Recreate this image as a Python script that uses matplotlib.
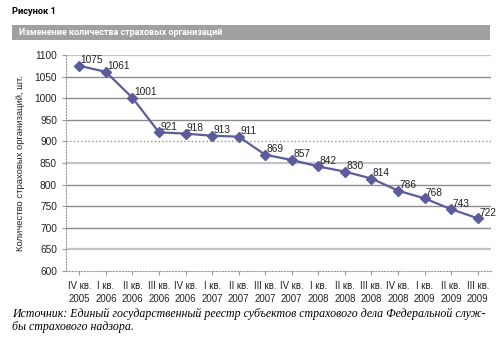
import matplotlib
matplotlib.use("Agg")
import matplotlib.pyplot as plt
from matplotlib.patches import Rectangle

# Quarterly count of insurance organisations, IV 2005 .. III 2009
quarters = ["IV кв.", "I кв.", "II кв.", "III кв.", "IV кв.", "I кв.", "II кв.",
            "III кв.", "IV кв.", "I кв.", "II кв.", "III кв.", "IV кв.", "I кв.",
            "II кв.", "III кв."]
years = ["2005", "2006", "2006", "2006", "2006", "2007", "2007", "2007", "2007",
         "2008", "2008", "2008", "2008", "2009", "2009", "2009"]
counts = [1075, 1061, 1001, 921, 918, 913, 911, 869, 857, 842, 830, 814, 786,
          768, 743, 722]

W, H = 500, 339
fig = plt.figure(figsize=(W / 100, H / 100), dpi=100)
fig.patch.set_facecolor("white")

# heading and banner
fig.text(12 / W, 1 - 12 / H, "Рисунок 1", fontsize=6.7, fontweight="bold",
         va="center", ha="left", family="Roboto")
fig.patches.append(Rectangle((12 / W, 1 - 40 / H), (490 - 12) / W, 15 / H,
                             transform=fig.transFigure, facecolor="#a0a0a0",
                             edgecolor="none"))
fig.text(19 / W, 1 - 32.5 / H, "Изменение количества страховых организаций",
         fontsize=6.5, fontweight="bold", color="white", va="center", ha="left",
         family="Roboto")

ax = fig.add_axes([66 / W, 1 - 271 / H, (491 - 66) / W, (271 - 55) / H])
x = list(range(len(counts)))
line_color = "#5c5c9c"
ax.plot(x, counts, color=line_color, lw=1.6, marker="D", ms=5.5,
        markerfacecolor=line_color, markeredgecolor=line_color, zorder=3)
for xi, v in zip(x, counts):
    ax.annotate(str(v), (xi, v), xytext=(1, 4), textcoords="offset points",
                fontsize=7.3, ha="left", va="center", color="#222222",
                family="Liberation Sans")

ax.set_xlim(-0.5, len(counts) - 0.5)
ax.set_ylim(600, 1100)
ax.set_yticks(range(600, 1101, 50))
ax.yaxis.grid(True, color="#8c8c8c", lw=1)
ax.set_axisbelow(True)
# gridline shading as printed: some lines lighter, 900 dotted
for tick, gl in zip(ax.get_yticks(), ax.yaxis.get_gridlines()):
    if tick in (650, 850, 1100):
        gl.set_color("#c4c4c4")
        gl.set_linewidth(1.6)
    elif tick == 900:
        gl.set_linestyle(":")
        gl.set_color("#909090")
    elif tick == 600:
        gl.set_visible(False)

ax.set_xticks(x)
ax.set_xticklabels([f"{q}\n{y}" for q, y in zip(quarters, years)],
                   fontsize=6.9, linespacing=1.4, family="Liberation Sans",
                   color="#222222")
ax.tick_params(axis="x", length=3, color="#999999", pad=4)
ax.tick_params(axis="y", length=3, color="#999999", labelsize=7.3,
               labelcolor="#222222")
for lbl in ax.get_yticklabels():
    lbl.set_family("Liberation Sans")
for s in ["top", "right"]:
    ax.spines[s].set_visible(False)
ax.spines["left"].set_color("#999999")
ax.spines["left"].set_linestyle(":")
ax.spines["bottom"].set_color("#999999")
ax.spines["bottom"].set_linestyle(":")
ax.set_ylabel("Количество страховых организаций, шт.", fontsize=6.8,
              labelpad=7, family="Liberation Sans", color="#222222")

fig.text(12 / W, 1 - 314 / H,
         "Источник: Единый государственный реестр субъектов страхового дела Федеральной служ-",
         fontsize=8.6, style="italic", family="Liberation Serif", va="center")
fig.text(12 / W, 1 - 327 / H, "бы страхового надзора.",
         fontsize=8.6, style="italic", family="Liberation Serif", va="center")

fig.savefig("out.png", dpi=100)
